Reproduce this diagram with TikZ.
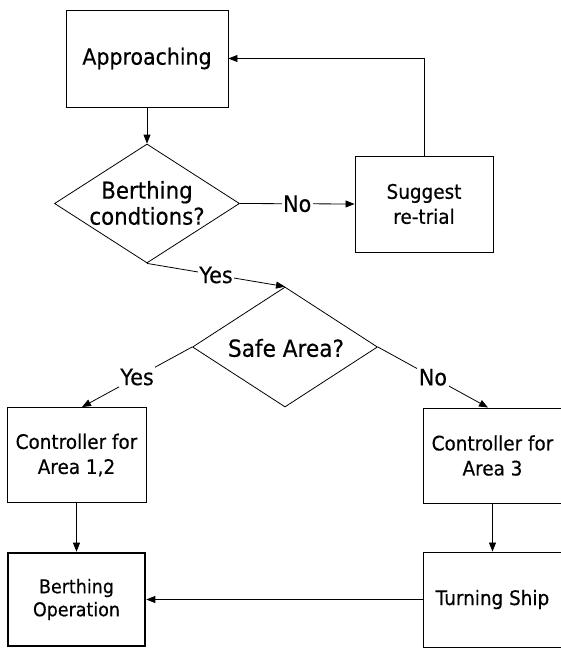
\documentclass[tikz,border=0pt]{standalone}
\usepackage{fontspec}
\setmainfont{DejaVu Sans}[FakeStretch=0.92,FakeBold=0.4]
\usetikzlibrary{arrows.meta,shapes.geometric}
\tikzset{
  procbox/.style={draw=black, line width=0.9pt, rectangle, inner sep=0pt, align=center, minimum width=139pt, minimum height=95pt},
  decbox/.style={draw=black, line width=0.8pt, shape=diamond, inner sep=0pt, minimum width=185pt, minimum height=120pt},
  txt/.style={inner sep=0pt, align=center},
  flow/.style={draw=black, line width=0.8pt, -{Triangle[length=9pt,width=7pt]}},
  lbl/.style={fill=white, inner sep=1.5pt, font=\fontsize{22.5}{26}\selectfont},
  bigf/.style={font=\fontsize{22.3}{27}\selectfont},
  midf/.style={font=\fontsize{20}{25}\selectfont},
  smallf/.style={font=\fontsize{19}{23}\selectfont}
}
\begin{document}
\begin{tikzpicture}[x=1pt,y=-1pt]
\useasboundingbox (0,0) rectangle (561,648);
% boxes
\node[procbox, bigf, minimum width=162pt, minimum height=97pt] (app) at (147,58.5) {Approaching};
\node[procbox, midf, minimum width=138pt, minimum height=96pt] (sug) at (424,204) {Suggest\\re-trial};
\node[procbox, midf] (c12) at (76.5,455) {Controller for\\Area 1,2};
\node[procbox, midf] (c3) at (492.5,455.5) {Controller for\\Area 3};
\node[procbox, smallf, line width=2.6pt, minimum width=137pt, minimum height=93pt] (bop) at (76.5,599.5) {Berthing\\Operation};
\node[procbox, midf] (turn) at (492.5,599.5) {Turning Ship};
% decisions
\node[decbox, minimum height=119pt] (bc) at (147,203.5) {};
\node[txt, font=\fontsize{23.2}{26}\selectfont] (bct) at (147,203) {Berthing\\condtions?};
\node[decbox] (sa) at (285,347) {};
\node[txt, font=\fontsize{23.5}{26}\selectfont] (sat) at (286,348) {Safe Area?};
% connectors
\draw[flow] (app.south) -- (bc.north);
\draw[flow] (bc.east) -- node[lbl] (lno1) {No} (sug.west);
\draw[flow] (sug.north) |- (app.east);
\draw[flow] (bc.south) -- node[lbl] (lyes1) {Yes} (sa.north);
\draw[flow] (sa.west) -- node[lbl] (lyes2) {Yes} ([xshift=5.5pt]c12.north);
\draw[flow] (sa.east) -- node[lbl] (lno2) {No} ([xshift=-4.5pt]c3.north);
\draw[flow] (c12.south) -- (bop.north);
\draw[flow] (c3.south) -- (turn.north);
\draw[flow] (turn.west) -- (bop.east);
\end{tikzpicture}
\end{document}
